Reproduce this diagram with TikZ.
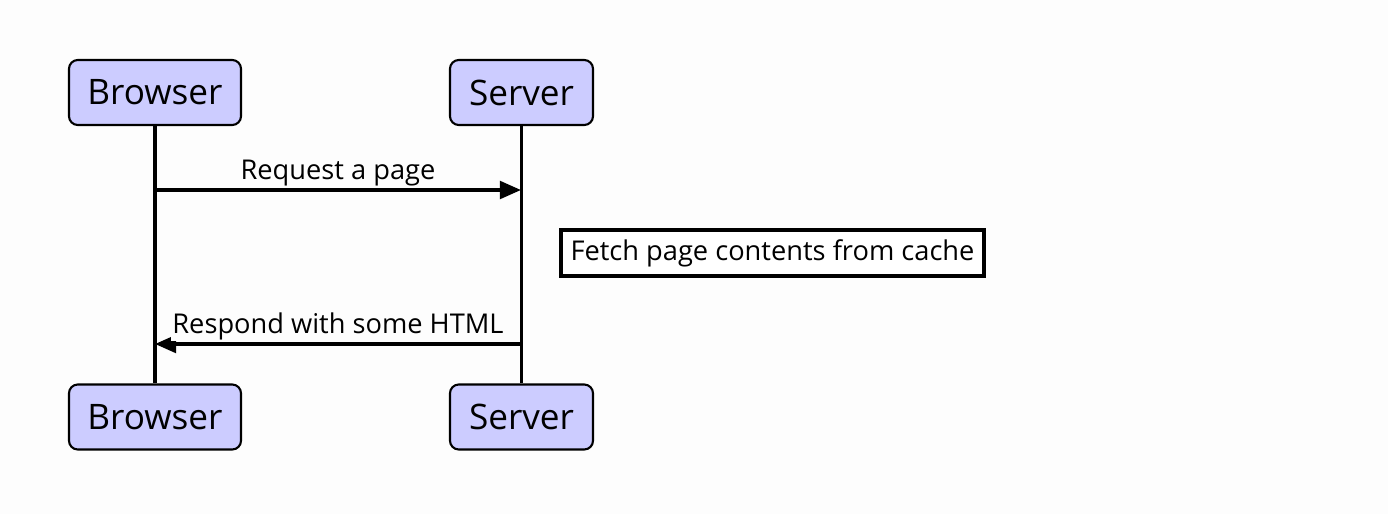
\documentclass[tikz,border=0pt]{standalone}
\usepackage{fontspec}
\setmainfont{Open Sans}
\usetikzlibrary{arrows.meta}
\definecolor{actorfill}{RGB}{204,204,255}
\definecolor{pagebg}{RGB}{253,253,253}
\begin{document}
\begin{tikzpicture}[x=0.02cm, y=-0.02cm,
  actor/.style={draw, line width=1.2pt, fill=actorfill, rounded corners=5pt, minimum height=65*0.02cm, inner xsep=6pt, font=\fontsize{20}{22}\selectfont},
  lifeline/.style={line width=2pt},
  msg/.style={line width=2pt, -{Triangle[length=12pt, width=10pt]}},
  msglabel/.style={fill=pagebg, inner sep=1pt, font=\fontsize{15.5}{17}\selectfont}]
\fill[pagebg] (0,0) rectangle (1388,514);
\useasboundingbox (0,0) rectangle (1388,514);
\node[actor, minimum width=172*0.02cm] (browsertop) at (155,92.5) {Browser};
\node[actor, minimum width=143*0.02cm] (servertop) at (521.5,92.5) {Server};
\node[actor, minimum width=172*0.02cm] (browserbot) at (155,417) {Browser};
\node[actor, minimum width=143*0.02cm] (serverbot) at (521.5,417) {Server};
\coordinate (reqfrom) at (155,190);
\coordinate (reqto) at (521,190);
\coordinate (respfrom) at (521,344);
\coordinate (respto) at (155,344);
\draw[lifeline] (browsertop) -- (browserbot);
\draw[lifeline] (servertop) -- (serverbot);
\draw[msg] (reqfrom) -- (reqto) node[msglabel, midway, above=0.5pt] (reqlabel) {Request a page};
\draw[msg] (respfrom) -- (respto) node[msglabel, midway, above=0.5pt] (resplabel) {Respond with some HTML};
\node[draw, line width=2pt, fill=white, minimum width=423*0.02cm, minimum height=46*0.02cm, inner sep=2pt, font=\fontsize{15.5}{17}\selectfont] (note) at (772.5,253) {Fetch page contents from cache};
\end{tikzpicture}
\end{document}
